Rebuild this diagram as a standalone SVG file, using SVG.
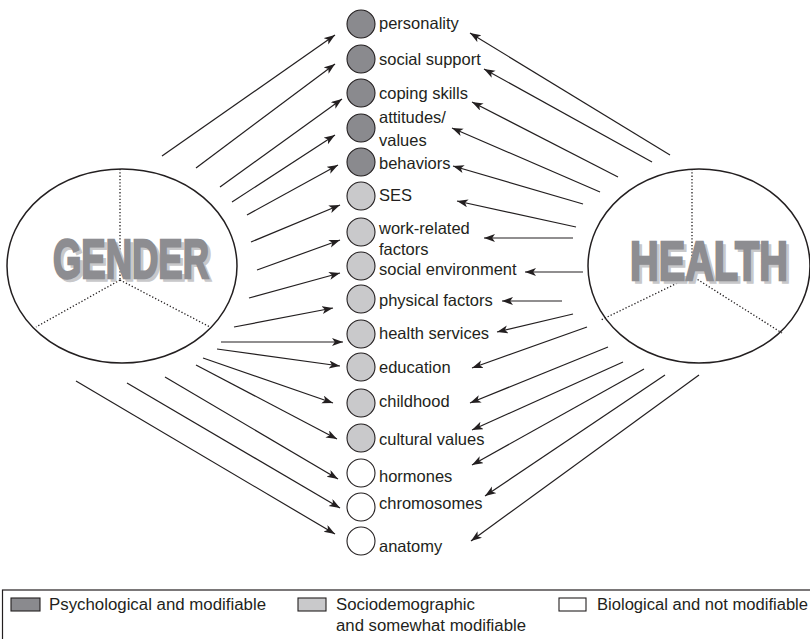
<svg xmlns="http://www.w3.org/2000/svg" width="810" height="639" viewBox="0 0 810 639">
<style>
.bg{fill:#ffffff}
.ell{fill:#ffffff;stroke:#231f20;stroke-width:1.5}
.dot{fill:none;stroke:#231f20;stroke-width:1.3;stroke-dasharray:1.3 2}
.big{font-family:"Liberation Sans",Arial,sans-serif;font-weight:bold;font-size:55px}
.bigf{fill:#8d8d91;stroke:#8d8d91;stroke-width:2.4}
.bigs{fill:#c8c8ca;stroke:#c8c8ca;stroke-width:1.6}
.c1{fill:#8a8a8e;stroke:#231f20;stroke-width:1.1}
.c2{fill:#c9c9cb;stroke:#231f20;stroke-width:1.1}
.c3{fill:#ffffff;stroke:#231f20;stroke-width:1.1}
.lbl{font-family:"Liberation Sans",Arial,sans-serif;font-size:16.5px;fill:#231f20}
.leg{font-family:"Liberation Sans",Arial,sans-serif;font-size:16px;fill:#231f20}
.arr{fill:none;stroke:#231f20;stroke-width:1.2;marker-end:url(#ah)}
.box{fill:none;stroke:#231f20;stroke-width:1.2}
</style>
<defs>
<marker id="ah" markerUnits="userSpaceOnUse" markerWidth="12" markerHeight="10" refX="11" refY="4" orient="auto">
<path d="M0,0 L11,4 L0,8 L2.8,4 Z" fill="#231f20"/>
</marker>
</defs>
<rect class="bg" x="0" y="0" width="810" height="639"/>

<g id="gender">
<ellipse class="ell" cx="122" cy="266" rx="115" ry="97"/>
<polyline class="dot" points="120,169 120,280"/>
<line class="dot" x1="120" y1="280" x2="36" y2="327"/>
<line class="dot" x1="120" y1="280" x2="210" y2="327"/>
<text class="big bigs" x="56" y="281" textLength="156" lengthAdjust="spacingAndGlyphs">GENDER</text>
<text class="big bigf" x="53" y="278" textLength="156" lengthAdjust="spacingAndGlyphs">GENDER</text>
</g>

<g id="health">
<ellipse class="ell" cx="699" cy="266" rx="111" ry="97"/>
<polyline class="dot" points="692,169 692,276"/>
<line class="dot" x1="692" y1="276" x2="601" y2="320"/>
<line class="dot" x1="692" y1="276" x2="782" y2="333"/>
<text class="big bigs" x="633" y="283" textLength="158" lengthAdjust="spacingAndGlyphs">HEALTH</text>
<text class="big bigf" x="630" y="280" textLength="158" lengthAdjust="spacingAndGlyphs">HEALTH</text>
</g>

<g id="personality"><circle class="c1" cx="361" cy="24" r="14"/><text class="lbl" x="379" y="29">personality</text></g>
<g id="social-support"><circle class="c1" cx="361" cy="59" r="14"/><text class="lbl" x="379" y="65">social support</text></g>
<g id="coping-skills"><circle class="c1" cx="361" cy="93" r="14"/><text class="lbl" x="379" y="99">coping skills</text></g>
<g id="attitudes-values"><circle class="c1" cx="361" cy="128" r="14"/><text class="lbl" x="379" y="123">attitudes/</text><text class="lbl" x="379" y="146">values</text></g>
<g id="behaviors"><circle class="c1" cx="361" cy="162" r="14"/><text class="lbl" x="379" y="169">behaviors</text></g>
<g id="ses"><circle class="c2" cx="361" cy="196" r="14"/><text class="lbl" x="379" y="201">SES</text></g>
<g id="work-related"><circle class="c2" cx="361" cy="232" r="14"/><text class="lbl" x="379" y="234">work-related</text><text class="lbl" x="379" y="255">factors</text></g>
<g id="social-environment"><circle class="c2" cx="361" cy="266" r="14"/><text class="lbl" x="379" y="275">social environment</text></g>
<g id="physical-factors"><circle class="c2" cx="361" cy="299" r="14"/><text class="lbl" x="379" y="306">physical factors</text></g>
<g id="health-services"><circle class="c2" cx="361" cy="334" r="14"/><text class="lbl" x="379" y="339">health services</text></g>
<g id="education"><circle class="c2" cx="361" cy="367" r="14"/><text class="lbl" x="379" y="373">education</text></g>
<g id="childhood"><circle class="c2" cx="361" cy="403" r="14"/><text class="lbl" x="379" y="407">childhood</text></g>
<g id="cultural-values"><circle class="c2" cx="361" cy="438" r="14"/><text class="lbl" x="379" y="445">cultural values</text></g>
<g id="hormones"><circle class="c3" cx="361" cy="473" r="14"/><text class="lbl" x="379" y="482">hormones</text></g>
<g id="chromosomes"><circle class="c3" cx="361" cy="507" r="14"/><text class="lbl" x="379" y="509">chromosomes</text></g>
<g id="anatomy"><circle class="c3" cx="361" cy="541" r="14"/><text class="lbl" x="379" y="552">anatomy</text></g>

<g id="connectors">
<line class="arr" x1="162" y1="156" x2="335" y2="35"/>
<line class="arr" x1="196" y1="168" x2="335" y2="64"/>
<line class="arr" x1="220" y1="187" x2="342" y2="99"/>
<line class="arr" x1="232" y1="202" x2="335" y2="135"/>
<line class="arr" x1="247" y1="215" x2="338" y2="165"/>
<line class="arr" x1="251" y1="242" x2="340" y2="205"/>
<line class="arr" x1="257" y1="270" x2="340" y2="240"/>
<line class="arr" x1="249" y1="298" x2="340" y2="273"/>
<line class="arr" x1="234" y1="327" x2="333" y2="308"/>
<line class="arr" x1="221" y1="342" x2="343" y2="342"/>
<line class="arr" x1="217" y1="349" x2="340" y2="366"/>
<line class="arr" x1="203" y1="358" x2="333" y2="403"/>
<line class="arr" x1="196" y1="365" x2="337" y2="439"/>
<line class="arr" x1="165" y1="377" x2="338" y2="479"/>
<line class="arr" x1="127" y1="383" x2="340" y2="508"/>
<line class="arr" x1="76" y1="381" x2="335" y2="534"/>

<line class="arr" x1="670" y1="155" x2="470" y2="33"/>
<line class="arr" x1="652" y1="162" x2="484" y2="69"/>
<line class="arr" x1="618" y1="177" x2="472" y2="102"/>
<line class="arr" x1="600" y1="192" x2="452" y2="128"/>
<line class="arr" x1="583" y1="204" x2="453" y2="166"/>
<line class="arr" x1="576" y1="227" x2="457" y2="201"/>
<line class="arr" x1="573" y1="238" x2="484" y2="238"/>
<line class="arr" x1="583" y1="272" x2="525" y2="272"/>
<line class="arr" x1="562" y1="301" x2="502" y2="301"/>
<line class="arr" x1="573" y1="314" x2="497" y2="332"/>
<line class="arr" x1="587" y1="327" x2="472" y2="368"/>
<line class="arr" x1="608" y1="347" x2="470" y2="403"/>
<line class="arr" x1="623" y1="362" x2="472" y2="430"/>
<line class="arr" x1="644" y1="369" x2="472" y2="465"/>
<line class="arr" x1="665" y1="375" x2="485" y2="496"/>
<line class="arr" x1="699" y1="375" x2="471" y2="541"/>
</g>

<g id="legend">
<rect class="box" x="2.5" y="590" width="820" height="60"/>
<rect class="c1" x="11" y="598" width="29" height="13"/>
<text class="leg" x="49" y="610" textLength="217" lengthAdjust="spacingAndGlyphs">Psychological and modifiable</text>
<rect class="c2" x="298" y="598" width="28" height="13"/>
<text class="leg" x="336" y="610" textLength="139" lengthAdjust="spacingAndGlyphs">Sociodemographic</text>
<text class="leg" x="336" y="631" textLength="190" lengthAdjust="spacingAndGlyphs">and somewhat modifiable</text>
<rect class="c3" x="559" y="598" width="27" height="13"/>
<text class="leg" x="597" y="610" textLength="211" lengthAdjust="spacingAndGlyphs">Biological and not modifiable</text>
</g>
</svg>
